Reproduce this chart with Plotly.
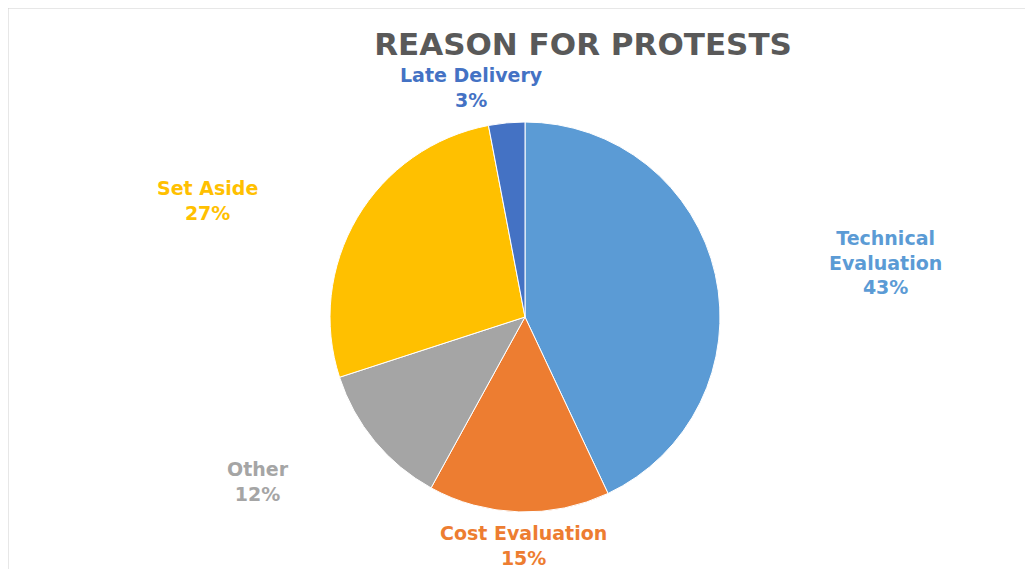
import plotly.graph_objects as go

# Data
categories = ["Technical Evaluation", "Cost Evaluation", "Other", "Set Aside", "Late Delivery"]
values = [43, 15, 12, 27, 3]
display_labels = ["Technical<br>Evaluation", "Cost Evaluation", "Other", "Set Aside", "Late Delivery"]
colors = ["#5B9BD5", "#ED7D31", "#A5A5A5", "#FFC000", "#4472C4"]

# page body has an 8px margin, so the figure is drawn 8px smaller and offset
W, H = 1025, 561
OFF = 8

def px(x):
    return (x - OFF) / W

def py(y):
    return 1 - (y - OFF) / H

fig = go.Figure()
fig.add_trace(go.Pie(
    labels=categories,
    values=values,
    sort=False,
    direction="clockwise",
    rotation=0,
    marker=dict(colors=colors, line=dict(color="white", width=1)),
    textinfo="none",
    hoverinfo="label+percent",
    showlegend=False,
    domain=dict(x=[px(525 - 195), px(525 + 195)], y=[py(512), py(122)]),
))

# label positions in reference pixels
label_pos = {
    "Technical Evaluation": (885, 262),
    "Cost Evaluation": (523, 545),
    "Other": (258, 481),
    "Set Aside": (207, 200),
    "Late Delivery": (471, 87),
}
total = sum(values)
for cat, disp, v, c in zip(categories, display_labels, values, colors):
    x, y = label_pos[cat]
    pct = round(v / total * 100)
    fig.add_annotation(
        x=px(x), y=py(y), xref="paper", yref="paper",
        text=f"{disp}<br>{pct}%", showarrow=False,
        xanchor="center", yanchor="middle", align="center",
        font=dict(family="DejaVu Sans", size=19, color=c, weight=700),
    )

# frame
fig.add_shape(type="rect", xref="paper", yref="paper",
              x0=px(7.5), x1=px(1029), y0=-0.2, y1=py(7.5),
              line=dict(color="#D0D0D0", width=2), fillcolor="rgba(0,0,0,0)", layer="below")

fig.update_layout(
    width=W, height=H,
    margin=dict(l=0, r=0, t=0, b=0),
    paper_bgcolor="white",
    plot_bgcolor="white",
    title=dict(text="REASON FOR PROTESTS", x=px(583), xanchor="center",
               y=py(44), yanchor="middle", yref="container",
               font=dict(family="DejaVu Sans", size=31, color="#595959", weight=700)),
)

fig.write_html("out.html")
